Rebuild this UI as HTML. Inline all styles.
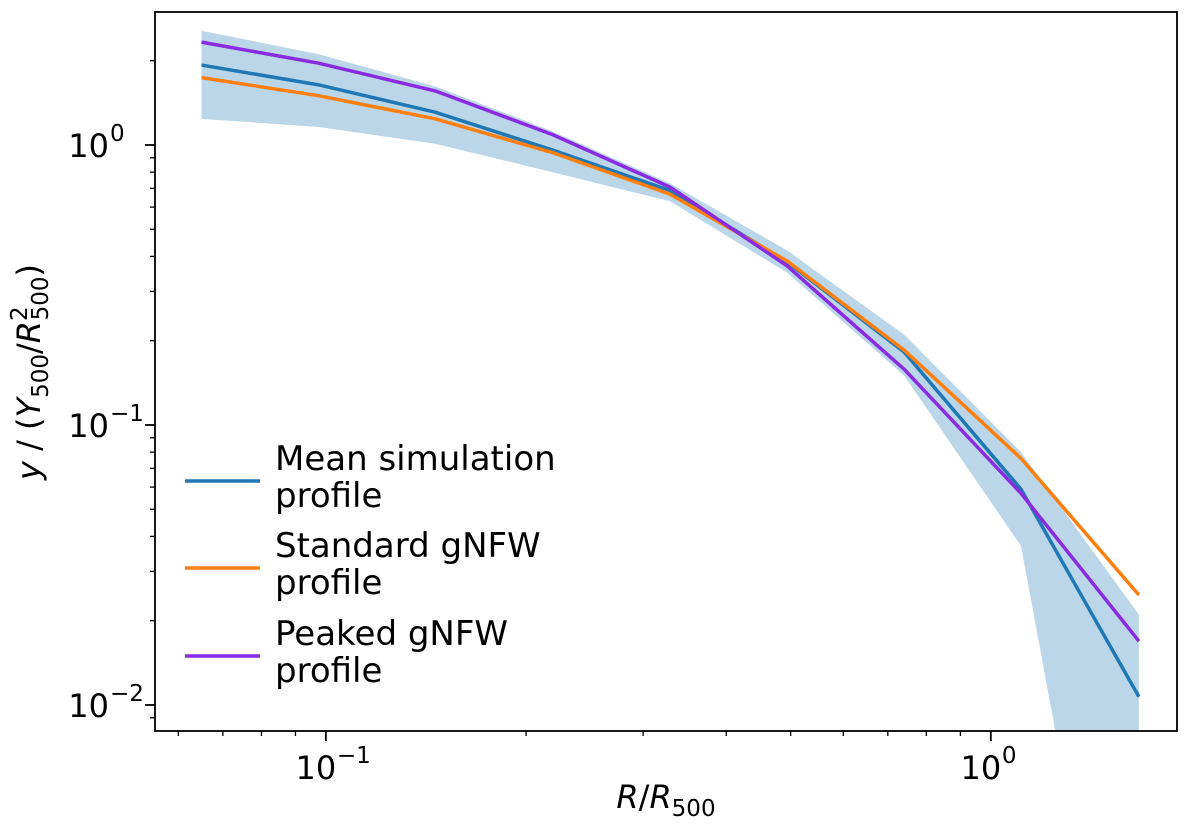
<!DOCTYPE html>
<html><head><meta charset="utf-8"><style>
html,body{margin:0;padding:0;background:#fff;overflow:hidden;width:1200px;height:828px}
svg{display:block;font-family:"DejaVu Sans","Liberation Sans",sans-serif}
</style></head><body>
<svg id="chart" width="1200" height="828">
<rect x="0" y="0" width="1200" height="828" fill="#fff"/>
<g id="plot"></g>
<g font-size="34">
<line x1="185" x2="260" y1="481" y2="481" stroke="#1f77b4" stroke-width="3.5"/>
<text x="275" y="470">Mean simulation</text>
<text x="275" y="507">profile</text>
<line x1="185" x2="260" y1="568" y2="568" stroke="#ff7f0e" stroke-width="3.5"/>
<text x="275" y="557">Standard gNFW</text>
<text x="275" y="594">profile</text>
<line x1="185" x2="260" y1="656" y2="656" stroke="#8a2be2" stroke-width="3.5"/>
<text x="275" y="645">Peaked gNFW</text>
<text x="275" y="682">profile</text>
</g>
<text x="666" y="808" font-size="32" text-anchor="middle"><tspan font-style="italic">R</tspan>/<tspan font-style="italic">R</tspan><tspan font-size="23" dy="8">500</tspan></text>
<text transform="translate(40,372) rotate(-90)" font-size="32" text-anchor="middle"><tspan font-style="italic">y</tspan> / (<tspan font-style="italic">Y</tspan><tspan font-size="23" dy="8">500</tspan><tspan dy="-8">/</tspan><tspan font-style="italic">R</tspan><tspan font-size="23" dy="-13">2</tspan><tspan font-size="23" dx="-14" dy="21">500</tspan><tspan dy="-8">)</tspan></text>
</svg>
<script>
const xVals=[0.065,0.0975,0.146,0.219,0.329,0.494,0.741,1.11,1.67];
const meanVals=[1.93,1.64,1.31,0.96,0.688,0.382,0.182,0.059,0.0107];
const gnfwVals=[1.74,1.50,1.24,0.94,0.668,0.385,0.185,0.076,0.0247];
const peakedVals=[2.33,1.96,1.56,1.09,0.708,0.37,0.158,0.057,0.0169];
const bandUpper=[2.56,2.11,1.62,1.12,0.73,0.42,0.21,0.08,0.021];
const bandLower=[1.24,1.16,1.01,0.80,0.63,0.35,0.15,0.037,0.0002];
const yTicks=[0.01,0.1,1];
const yTickLabels=["−2","−1","0"];
const xTicks=[0.1,1];
const xTickLabels=["−1","0"];

const L=155,R=1177,T=12,B=731;
const xmin=-1.257,xmax=0.28,ymin=-2.093,ymax=0.475;
const X=v=>L+(Math.log10(v)-xmin)/(xmax-xmin)*(R-L);
const Y=v=>B-(Math.log10(v)-ymin)/(ymax-ymin)*(B-T);
const NS="http://www.w3.org/2000/svg";
const g=document.getElementById('plot');
function mk(t,a,p){const e=document.createElementNS(NS,t);for(const k in a)e.setAttribute(k,a[k]);(p||g).appendChild(e);return e;}
const clip=mk('clipPath',{id:'c'});mk('rect',{x:L,y:T,width:R-L,height:B-T},clip);
const data=mk('g',{'clip-path':'url(#c)'});
let d='M'+xVals.map((x,i)=>X(x)+','+Y(bandUpper[i])).join('L');
for(let i=xVals.length-1;i>=0;i--)d+='L'+X(xVals[i])+','+Y(bandLower[i]);
const band=mk('path',{d:d+'Z',fill:'#1f77b4','fill-opacity':0.3,stroke:'none'},data);


function line(vals,col,name){const p=mk('polyline',{points:xVals.map((x,i)=>X(x)+','+Y(vals[i])).join(' '),fill:'none',stroke:col,'stroke-width':3.5,'stroke-linejoin':'round'},data);

}
line(meanVals,'#1f77b4','mean-simulation-line');
line(gnfwVals,'#ff7f0e','standard-gnfw-line');
line(peakedVals,'#8a2be2','peaked-gnfw-line');
for(let e=-3;e<=1;e++)for(let m=1;m<10;m++){const v=m*Math.pow(10,e);const lv=Math.log10(v);
 if(lv>=ymin&&lv<=ymax)mk('line',{x1:L,x2:L-(m==1?10:5),y1:Y(v),y2:Y(v),stroke:'#000','stroke-width':m==1?1.8:1.3});
 if(lv>=xmin&&lv<=xmax)mk('line',{y1:B,y2:B+(m==1?10:5),x1:X(v),x2:X(v),stroke:'#000','stroke-width':m==1?1.8:1.3});}
yTicks.forEach((v,i)=>{const t=mk('text',{x:L-46,y:Y(v)+12,'font-size':32,'text-anchor':'end'});t.textContent='10';
 const s=mk('text',{x:L-45,y:Y(v)-4,'font-size':23});s.textContent=yTickLabels[i];
 
 });
xTicks.forEach((v,i)=>{const t=mk('text',{x:X(v)-10,y:B+48,'font-size':32,'text-anchor':'middle'});t.textContent='10';
 const s=mk('text',{x:X(v)+11,y:B+32,'font-size':23});s.textContent=xTickLabels[i];
 
 });
const fr=mk('rect',{x:L,y:T,width:R-L,height:B-T,fill:'none',stroke:'#000','stroke-width':1.8});


</script>
</body></html>
